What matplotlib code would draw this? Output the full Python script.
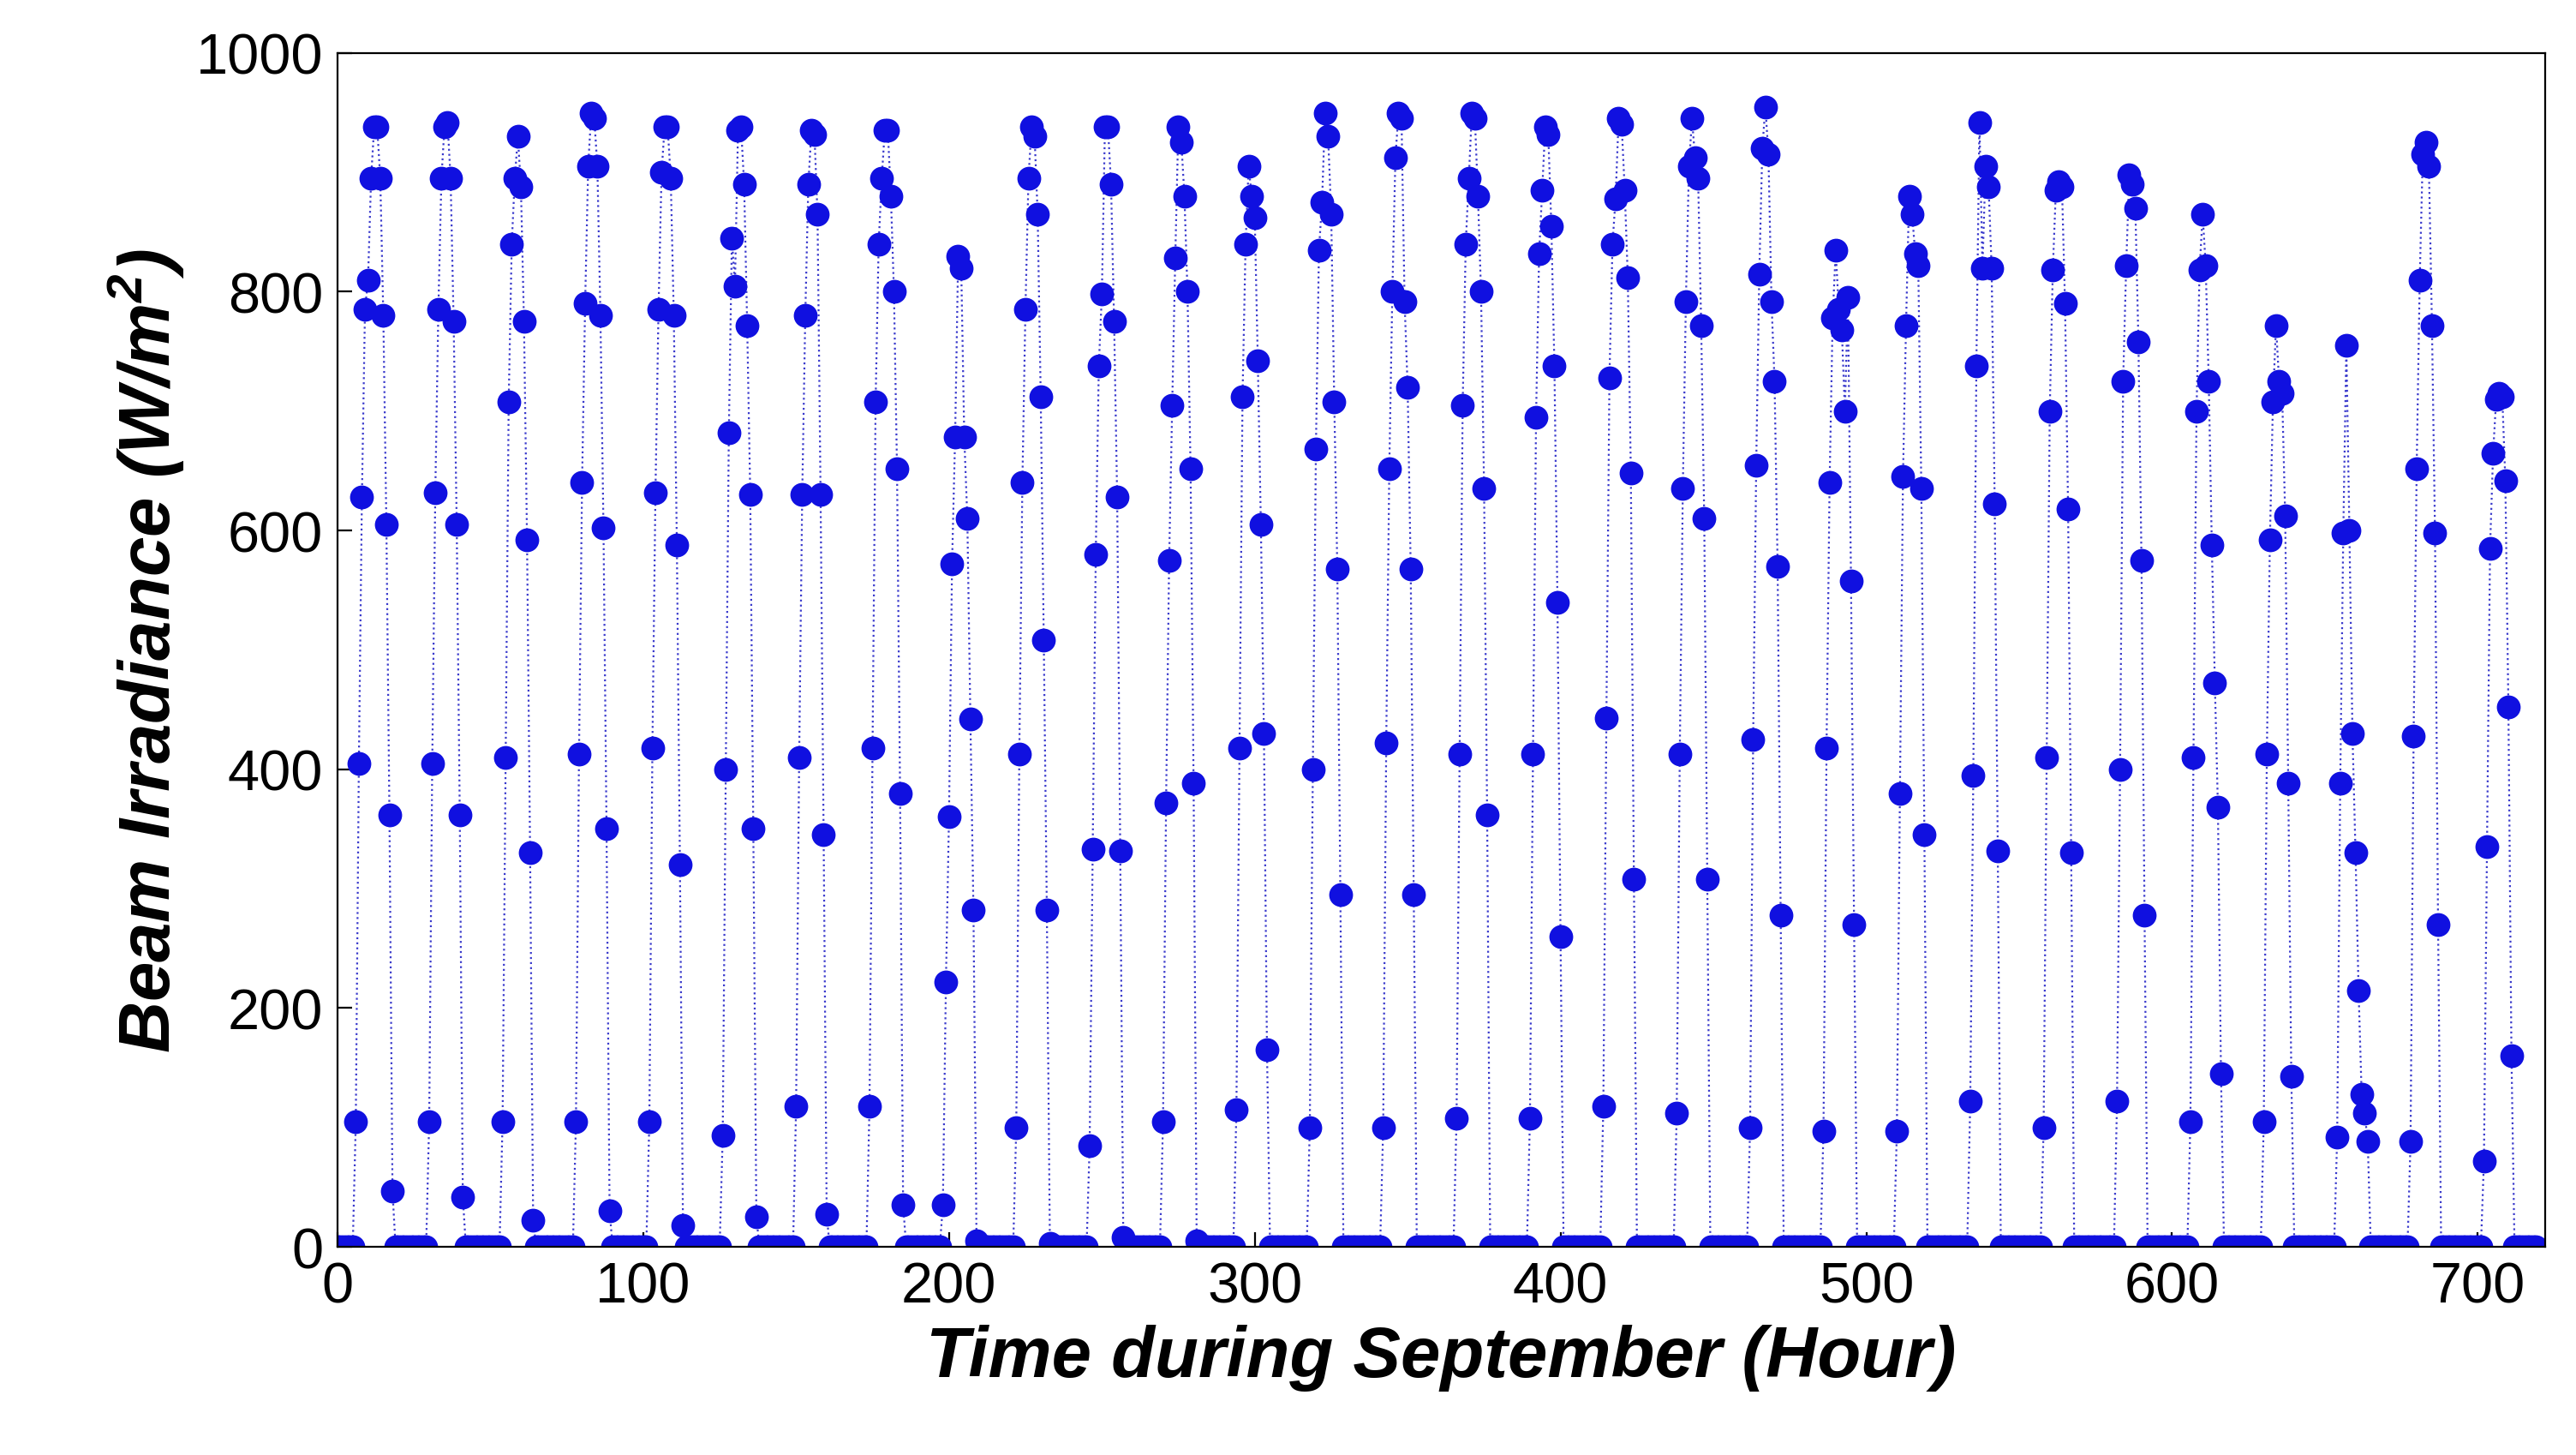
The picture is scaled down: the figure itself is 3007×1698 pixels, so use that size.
import matplotlib
matplotlib.use("Agg")
import matplotlib.pyplot as plt
import numpy as np

plt.rcParams['font.family'] = ['Liberation Sans', 'DejaVu Sans']
plt.rcParams['mathtext.fontset'] = 'custom'
plt.rcParams['mathtext.bfit'] = 'Liberation Sans:bold:italic'
plt.rcParams['mathtext.bf'] = 'Liberation Sans:bold:italic'

day_values = [
 [105,405,628,785,810,895,938,938,895,780,605,362,47],
 [105,405,632,785,895,938,942,895,775,605,362,42],
 [105,410,708,840,895,930,888,775,592,330,22],
 [105,413,640,790,905,950,945,905,780,602,350,30],
 [105,418,632,785,900,938,938,895,780,588,320,18],
 [93,400,682,845,805,935,938,890,772,630,350,25],
 [118,410,630,780,890,935,932,865,630,345,27],
 [118,418,708,840,895,935,935,880,800,652,380,35],
 [35,222,360,572,678,830,820,678,610,442,282,5],
 [100,413,640,785,895,938,930,865,712,508,282,3],
 [85,333,580,738,798,938,938,890,775,628,332,8],
 [105,372,575,705,828,938,925,880,800,652,388,5],
 [115,418,712,840,905,880,862,742,605,430,165],
 [100,400,668,835,875,950,930,865,708,568,295],
 [100,422,652,800,912,950,945,792,720,568,295],
 [108,413,705,840,895,950,945,880,800,635,362],
 [108,413,695,832,885,938,932,855,738,540,260],
 [118,443,728,840,878,945,940,885,812,648,308],
 [112,413,635,792,905,945,912,895,772,610,308],
 [100,425,655,815,920,955,915,792,725,570,278],
 [97,418,640,778,835,785,768,700,795,558,270],
 [97,380,645,772,880,865,832,822,635,345],
 [122,395,738,942,820,905,888,820,622,332],
 [100,410,700,818,885,892,888,790,618,330],
 [122,400,725,822,898,890,870,758,575,278],
 [105,410,700,818,865,822,725,588,472,368,145],
 [105,413,592,708,772,725,715,612,388,143],
 [92,388,598,755,600,430,330,215,128,112,88],
 [88,428,652,810,915,925,905,772,598,270],
 [72,335,585,665,710,715,712,642,452,160],
]
hours = np.arange(720)
irr = np.zeros(720)
for d, vals in enumerate(day_values):
    s = 24*d + 6
    irr[s:s+len(vals)] = vals

fig = plt.figure(figsize=(15.035, 8.495), dpi=200)
ax = fig.add_axes([0.131, 0.143, 0.857, 0.82])
ax.plot(hours, irr, ':', color='#3a3acc', lw=0.8, marker='o', ms=9,
        mfc='#1010e0', mec='#1010e0')
ax.set_xlim(0, 722)
ax.set_ylim(0, 1000)
ax.set_xticks(range(0, 701, 100))
ax.set_yticks(range(0, 1001, 200))
ax.tick_params(labelsize=24, direction='in', length=6, pad=6)
ax.set_xlabel('Time during September (Hour)', fontsize=30, fontweight='bold', style='italic')
ax.set_ylabel('Beam Irradiance (W/m$^\\mathbf{2}$)', fontsize=30, fontweight='bold', style='italic')
fig.savefig('out.png', dpi=200, facecolor='white')
